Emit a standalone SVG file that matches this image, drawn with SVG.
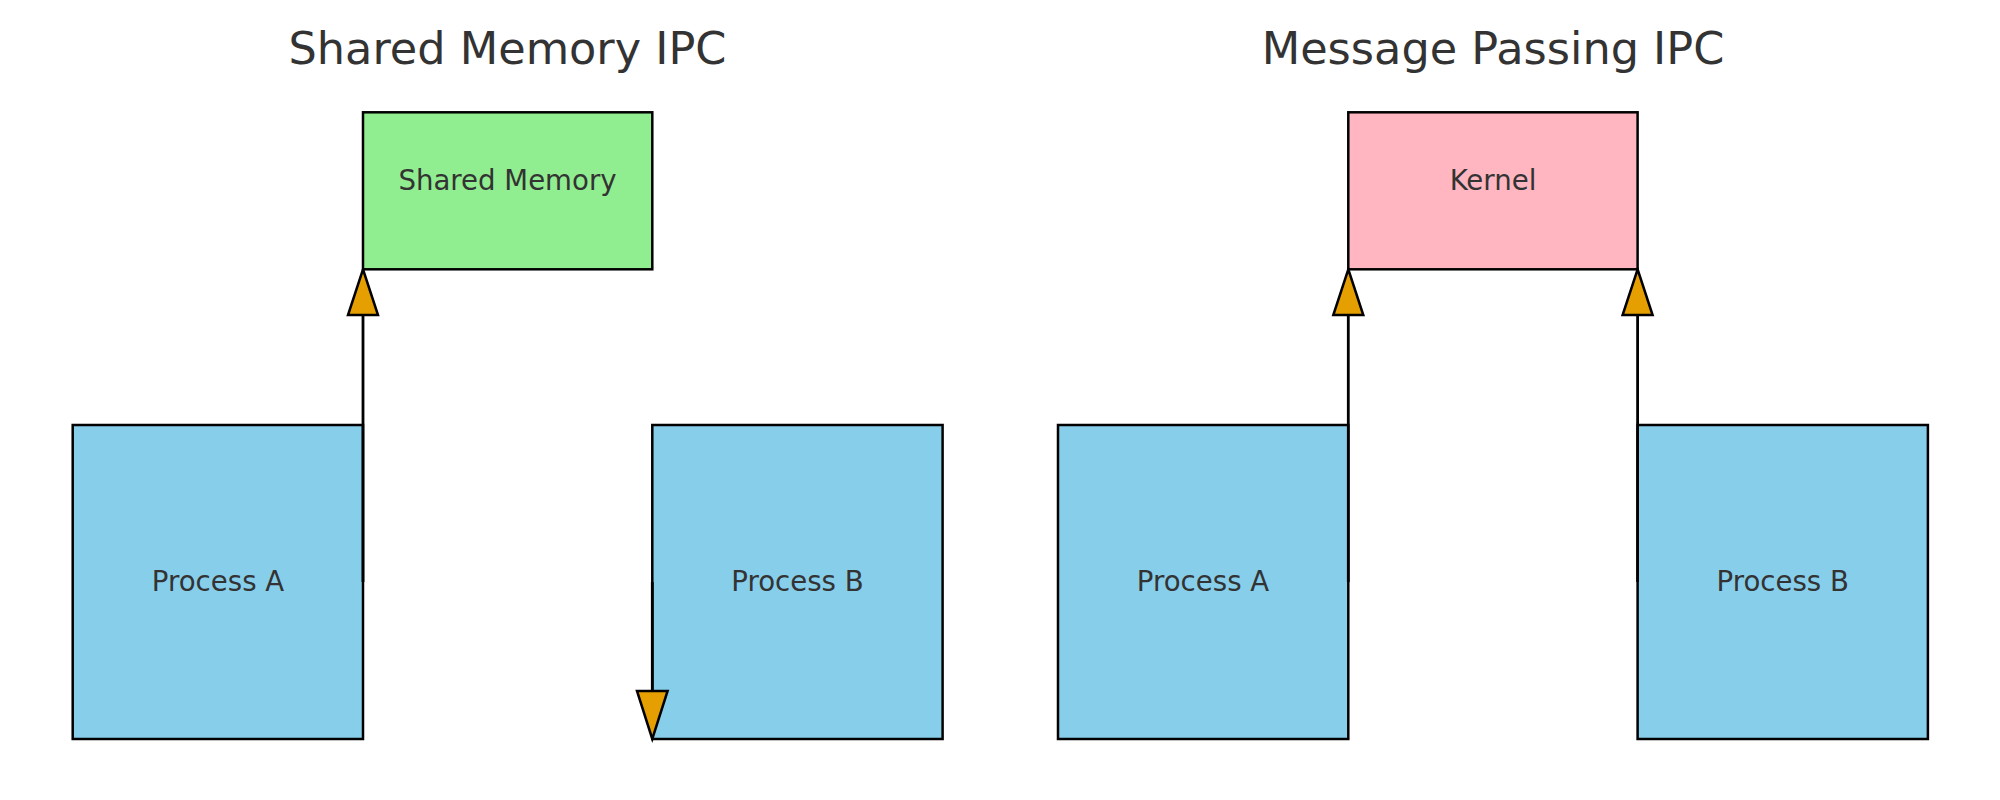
<svg xmlns="http://www.w3.org/2000/svg" width="2000" height="800" viewBox="0 0 2000 800">
<style>
.title{font-family:"DejaVu Sans",sans-serif;font-size:44.6px;fill:#333333;text-anchor:middle}
.lbl{font-family:"DejaVu Sans",sans-serif;font-size:27.6px;fill:#333333;text-anchor:middle}
.box{stroke:#000000;stroke-width:2.5}
.proc{fill:#87CEEB}
.mem{fill:#90EE90}
.kern{fill:#FFB6C1}
.shaft{stroke:#000000;stroke-width:2.8;fill:none}
.head{fill:#E69F00;stroke:#000000;stroke-width:2.5;stroke-linejoin:miter}
</style>
<rect width="2000" height="800" fill="#ffffff"/>
<text class="title" x="507.5" y="64.3">Shared Memory IPC</text>
<text class="title" x="1493" y="64.3">Message Passing IPC</text>
<g id="shm-process-a">
<rect class="box proc" x="72.7" y="425" width="290.3" height="314"/>
<text class="lbl" x="218" y="590.5">Process A</text>
</g>
<g id="shm-memory">
<rect class="box mem" x="363" y="112.3" width="289.3" height="157"/>
<text class="lbl" x="507.5" y="190.3">Shared Memory</text>
</g>
<g id="shm-process-b">
<rect class="box proc" x="652.3" y="425" width="290.3" height="314"/>
<text class="lbl" x="797.5" y="590.5">Process B</text>
</g>
<g id="mp-process-a">
<rect class="box proc" x="1058" y="425" width="290.3" height="314"/>
<text class="lbl" x="1203" y="590.5">Process A</text>
</g>
<g id="mp-kernel">
<rect class="box kern" x="1348.3" y="112.3" width="289.3" height="157"/>
<text class="lbl" x="1493" y="190.3">Kernel</text>
</g>
<g id="mp-process-b">
<rect class="box proc" x="1637.6" y="425" width="290.3" height="314"/>
<text class="lbl" x="1782.7" y="590.5">Process B</text>
</g>
<g id="connectors">
<line class="shaft" x1="363" y1="582" x2="363" y2="315"/>
<polygon class="head" points="363,269.3 348,315 378,315"/>
<line class="shaft" x1="652.3" y1="582" x2="652.3" y2="691"/>
<polygon class="head" points="652.3,739 637,691 667.6,691"/>
<line class="shaft" x1="1348.3" y1="582" x2="1348.3" y2="315"/>
<polygon class="head" points="1348.3,269.3 1333.3,315 1363.3,315"/>
<line class="shaft" x1="1637.6" y1="582" x2="1637.6" y2="315"/>
<polygon class="head" points="1637.6,269.3 1622.6,315 1652.6,315"/>
</g>
</svg>
